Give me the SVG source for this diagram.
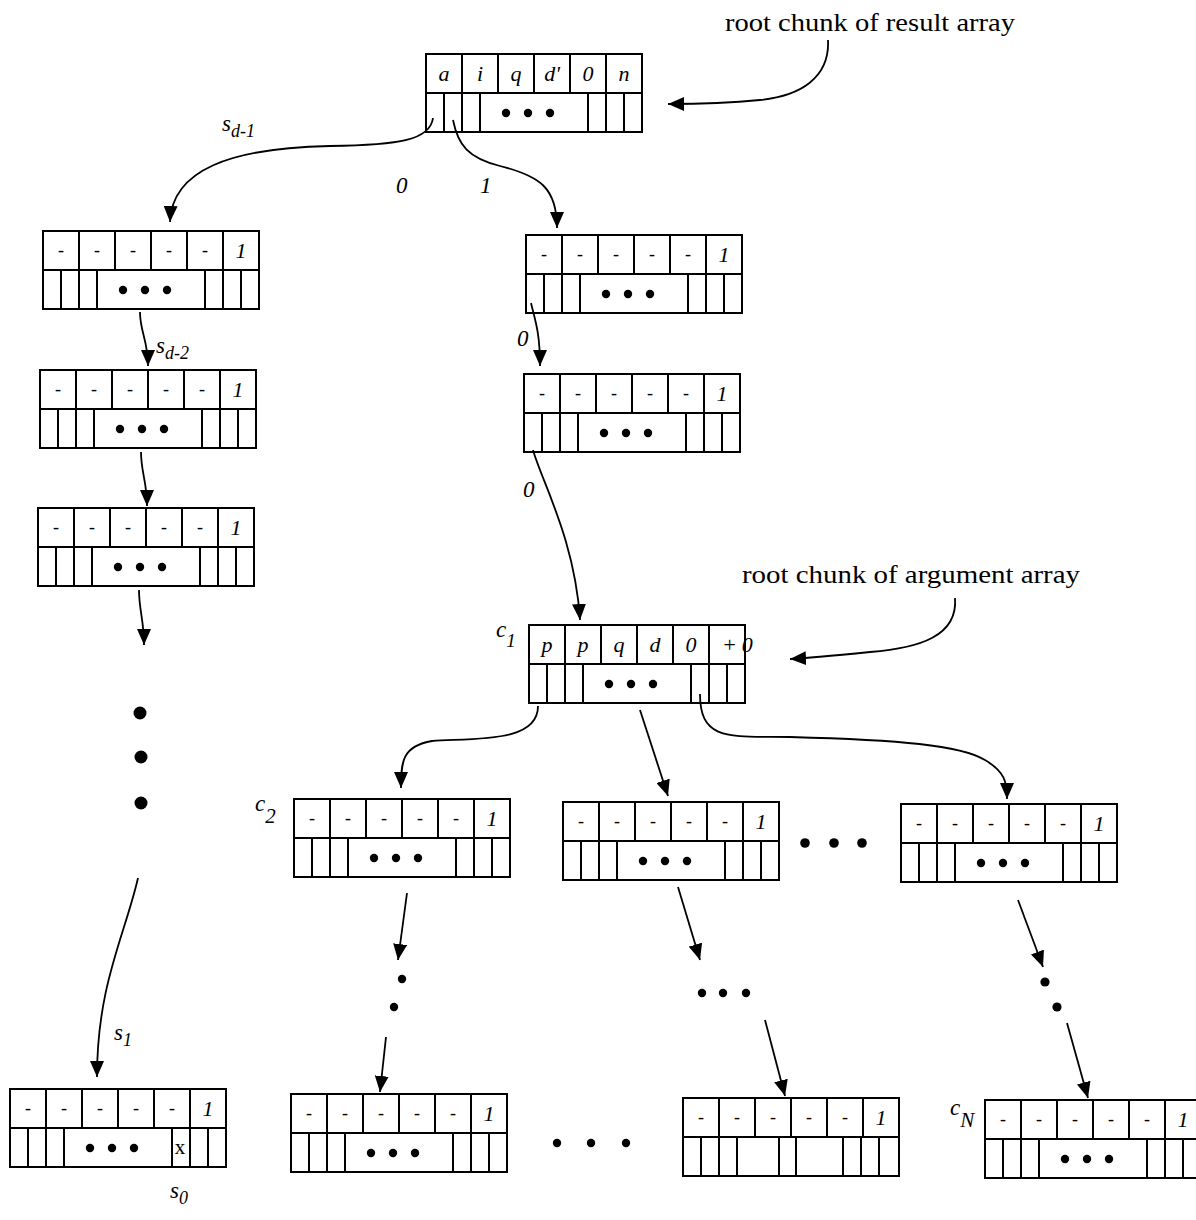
<svg xmlns="http://www.w3.org/2000/svg" xmlns:xlink="http://www.w3.org/1999/xlink" width="1196" height="1220" viewBox="0 0 1196 1220">
<style>
.ln{stroke:#000;stroke-width:2;fill:none}
.cn{stroke:#000;stroke-width:1.8;fill:none}
.t{font-family:"Liberation Serif","Times New Roman",serif;font-style:italic;font-size:22px;text-anchor:middle;fill:#000}
.d{font-family:"Liberation Serif","Times New Roman",serif;font-size:18px;text-anchor:middle;fill:#000}
.lbl{font-family:"Liberation Serif","Times New Roman",serif;font-style:italic;font-size:23px;fill:#000}
.cap{font-family:"Liberation Serif","Times New Roman",serif;font-size:26px;fill:#000}
</style>
<defs>
<marker id="ah" markerUnits="userSpaceOnUse" markerWidth="16" markerHeight="14" refX="16" refY="7" orient="auto">
<path d="M0,0 L16,7 L0,14 z" fill="#000"/>
</marker>
<g id="frame">
<rect class="ln" x="0" y="0" width="216" height="78"/>
<path class="ln" d="M0,39 H216 M36,0 V39 M72,0 V39 M108,0 V39 M144,0 V39 M180,0 V39"/>
</g>
<g id="bot">
<path class="ln" d="M18,39 V78 M36,39 V78 M54,39 V78 M162,39 V78 M180,39 V78 M198,39 V78"/>
<circle cx="80" cy="59" r="4.2"/>
<circle cx="102" cy="59" r="4.2"/>
<circle cx="124" cy="59" r="4.2"/>
</g>
<g id="dashes">
<text class="d" x="18" y="25">-</text>
<text class="d" x="54" y="25">-</text>
<text class="d" x="90" y="25">-</text>
<text class="d" x="126" y="25">-</text>
<text class="d" x="162" y="25">-</text>
<text class="t" x="198" y="27">1</text>
</g>
</defs>

<g id="root" transform="translate(426,54)">
<use xlink:href="#frame"/><use xlink:href="#bot"/>
<text class="t" x="18" y="27">a</text>
<text class="t" x="54" y="27">i</text>
<text class="t" x="90" y="27">q</text>
<text class="t" x="126" y="27">d'</text>
<text class="t" x="162" y="27">0</text>
<text class="t" x="198" y="27">n</text>
</g>

<g id="L1" transform="translate(43,231)"><use xlink:href="#frame"/><use xlink:href="#bot"/><use xlink:href="#dashes"/></g>
<g id="L2" transform="translate(40,370)"><use xlink:href="#frame"/><use xlink:href="#bot"/><use xlink:href="#dashes"/></g>
<g id="L3" transform="translate(38,508)"><use xlink:href="#frame"/><use xlink:href="#bot"/><use xlink:href="#dashes"/></g>
<g id="LB" transform="translate(10,1089)"><use xlink:href="#frame"/><use xlink:href="#bot"/><use xlink:href="#dashes"/>
<text class="d" x="170" y="65" style="font-size:21px">x</text>
</g>

<g id="R1" transform="translate(526,235)"><use xlink:href="#frame"/><use xlink:href="#bot"/><use xlink:href="#dashes"/></g>
<g id="R2" transform="translate(524,374)"><use xlink:href="#frame"/><use xlink:href="#bot"/><use xlink:href="#dashes"/></g>

<g id="c1" transform="translate(529,625)">
<use xlink:href="#frame"/><use xlink:href="#bot"/>
<text class="t" x="18" y="27">p</text>
<text class="t" x="54" y="27">p</text>
<text class="t" x="90" y="27">q</text>
<text class="t" x="126" y="27">d</text>
<text class="t" x="162" y="27">0</text>
<text class="t" x="193" y="27" style="text-anchor:start">+<tspan dx="5">0</tspan></text>
</g>

<g id="c2" transform="translate(294,799)"><use xlink:href="#frame"/><use xlink:href="#bot"/><use xlink:href="#dashes"/></g>
<g id="M2" transform="translate(563,802)"><use xlink:href="#frame"/><use xlink:href="#bot"/><use xlink:href="#dashes"/></g>
<g id="N2" transform="translate(901,804)"><use xlink:href="#frame"/><use xlink:href="#bot"/><use xlink:href="#dashes"/></g>

<g id="B1" transform="translate(291,1094)"><use xlink:href="#frame"/><use xlink:href="#bot"/><use xlink:href="#dashes"/></g>
<g id="B2" transform="translate(683,1098)"><use xlink:href="#frame"/><use xlink:href="#dashes"/>
<path class="ln" d="M18,39 V78 M36,39 V78 M54,39 V78 M96,39 V78 M113,39 V78 M160,39 V78 M178,39 V78 M196,39 V78"/>
</g>
<g id="cN" transform="translate(985,1100)"><use xlink:href="#frame"/><use xlink:href="#bot"/><use xlink:href="#dashes"/></g>

<g id="ellipses">
<circle cx="140" cy="713" r="6.5"/>
<circle cx="141" cy="757" r="6.5"/>
<circle cx="141" cy="803" r="6.5"/>
<circle cx="805" cy="843" r="4.8"/>
<circle cx="834" cy="843" r="4.8"/>
<circle cx="862" cy="843" r="4.8"/>
<circle cx="557" cy="1143" r="4.2"/>
<circle cx="591" cy="1143" r="4.2"/>
<circle cx="626" cy="1143" r="4.2"/>
<circle cx="402" cy="979" r="4.2"/>
<circle cx="394" cy="1007" r="4.2"/>
<circle cx="702" cy="993" r="4.2"/>
<circle cx="723" cy="993" r="4.2"/>
<circle cx="746" cy="993" r="4.2"/>
<circle cx="1045" cy="982" r="4.6"/>
<circle cx="1057" cy="1007" r="4.6"/>
</g>

<g id="connectors">
<path class="cn" marker-end="url(#ah)" d="M433,118 C430,140 400,145 330,146 C230,148 172,170 170,222"/>
<path class="cn" marker-end="url(#ah)" d="M453,120 C458,145 468,158 500,166 C540,176 557,188 557,228"/>
<path class="cn" marker-end="url(#ah)" d="M140,312 C140,332 148,340 148,366"/>
<path class="cn" marker-end="url(#ah)" d="M141,452 C141,472 147,482 147,506"/>
<path class="cn" marker-end="url(#ah)" d="M139,590 C139,610 144,620 144,645"/>
<path class="cn" marker-end="url(#ah)" d="M138,878 C125,935 97,985 97,1077"/>
<path class="cn" marker-end="url(#ah)" d="M531,303 C535,320 540,332 540,366"/>
<path class="cn" marker-end="url(#ah)" d="M533,450 C542,482 575,540 580,620"/>
<path class="cn" marker-end="url(#ah)" d="M538,706 C538,742 480,738 432,741 C402,746 401,762 401,788"/>
<path class="cn" marker-end="url(#ah)" d="M640,710 L668,796"/>
<path class="cn" marker-end="url(#ah)" d="M700,694 C700,742 730,736 790,737 C900,740 960,745 985,760 C1005,772 1007,782 1007,799"/>
<path class="cn" marker-end="url(#ah)" d="M407,893 L398,960"/>
<path class="cn" marker-end="url(#ah)" d="M386,1037 L380,1092"/>
<path class="cn" marker-end="url(#ah)" d="M678,887 L700,960"/>
<path class="cn" marker-end="url(#ah)" d="M765,1020 L785,1096"/>
<path class="cn" marker-end="url(#ah)" d="M1018,900 L1043,967"/>
<path class="cn" marker-end="url(#ah)" d="M1067,1023 L1088,1098"/>
<path class="cn" marker-end="url(#ah)" d="M828,40 C830,78 800,96 760,100 C720,104 692,104 668,104"/>
<path class="cn" marker-end="url(#ah)" d="M955,598 C958,636 920,648 870,652 C830,656 810,658 790,659"/>
</g>

<g id="labels">
<text class="cap" x="725" y="31" textLength="290" lengthAdjust="spacingAndGlyphs">root chunk of result array</text>
<text class="cap" x="742" y="583" textLength="338" lengthAdjust="spacingAndGlyphs">root chunk of argument array</text>
<text class="lbl" x="222" y="131">s<tspan dy="6" font-size="18">d-1</tspan></text>
<text class="lbl" x="156" y="353">s<tspan dy="6" font-size="18">d-2</tspan></text>
<text class="lbl" x="114" y="1040">s<tspan dy="6" font-size="18">1</tspan></text>
<text class="lbl" x="170" y="1198">s<tspan dy="6" font-size="18">0</tspan></text>
<text class="lbl" x="396" y="193">0</text>
<text class="lbl" x="480" y="193">1</text>
<text class="lbl" x="517" y="346">0</text>
<text class="lbl" x="523" y="497">0</text>
<text class="lbl" x="496" y="637">c<tspan dy="10" font-size="19">1</tspan></text>
<text class="lbl" x="255" y="811">c<tspan dy="12" font-size="21">2</tspan></text>
<text class="lbl" x="950" y="1115">c<tspan dy="12" font-size="21">N</tspan></text>
</g>
</svg>
